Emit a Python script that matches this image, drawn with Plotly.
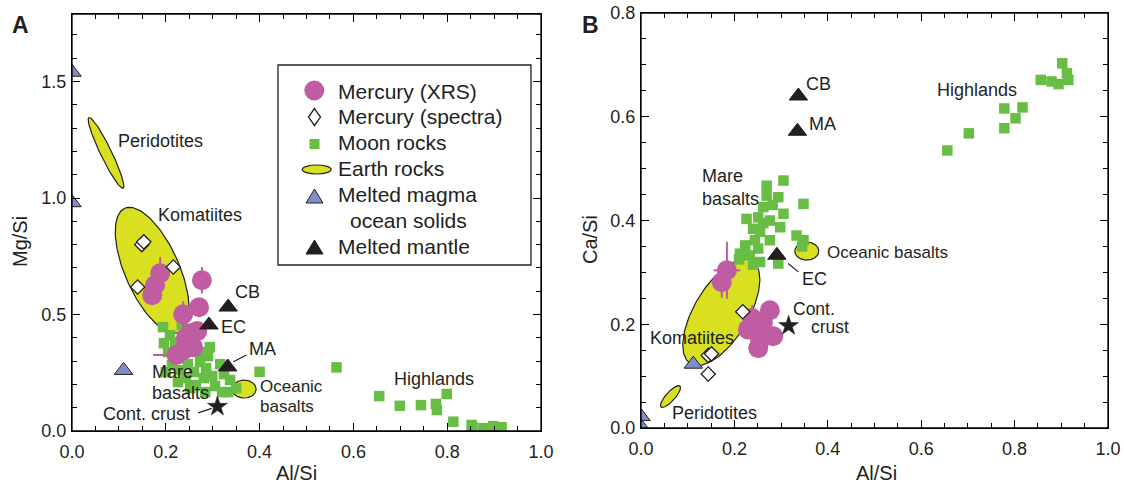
import numpy as np
import plotly.graph_objects as go

# ---------------- data ----------------
# Panel A : Mg/Si vs Al/Si
xrsA_x = [0.188, 0.177, 0.171, 0.277, 0.271, 0.237, 0.252, 0.243, 0.267, 0.258, 0.223, 0.237]
xrsA_y = [0.677, 0.626, 0.583, 0.647, 0.531, 0.501, 0.420, 0.399, 0.429, 0.360, 0.326, 0.347]
xrsA_ey = [0.07, 0.0, 0.0, 0.057, 0.0, 0.056, 0.0, 0.0, 0.0, 0.03, 0.02, 0.0]
xrsA_ex = [0.0, 0.0, 0.0, 0.0, 0.0, 0.0, 0.0, 0.0, 0.0, 0.0, 0.05, 0.0]

specA_x = [0.149, 0.153, 0.216, 0.140]
specA_y = [0.800, 0.812, 0.704, 0.618]

moonA_x = [0.194, 0.209, 0.196, 0.220, 0.205, 0.226, 0.213, 0.200, 0.230, 0.247,
           0.243, 0.260, 0.264, 0.281, 0.273, 0.290, 0.286, 0.299, 0.305, 0.316,
           0.324, 0.337, 0.350, 0.333, 0.320, 0.284, 0.252, 0.226, 0.294, 0.273,
           0.234, 0.400, 0.564,
           0.655, 0.699, 0.744, 0.776, 0.778, 0.799, 0.813, 0.852, 0.854, 0.877, 0.898, 0.916]
moonA_y = [0.446, 0.411, 0.377, 0.381, 0.339, 0.313, 0.283, 0.253, 0.261, 0.287,
           0.227, 0.253, 0.197, 0.227, 0.296, 0.321, 0.270, 0.236, 0.193, 0.287,
           0.244, 0.219, 0.184, 0.167, 0.167, 0.167, 0.184, 0.210, 0.360, 0.339,
           0.454, 0.254, 0.273,
           0.150, 0.108, 0.111, 0.116, 0.090, 0.159, 0.040, 0.026, 0.016, 0.012, 0.021, 0.016]

magA_x = [0.0, 0.0, 0.11]
magA_y = [1.54, 0.98, 0.26]

mantleA_x = [0.333, 0.292, 0.332]          # CB, EC, MA
mantleA_y = [0.532, 0.455, 0.275]

crustA_x = [0.310]
crustA_y = [0.105]

# Earth-rock fields: centre, end of major axis, minor/major ratio
earthA_names = ["Peridotites", "Komatiites", "Oceanic basalts"]
earthA_cx = [0.0725, 0.171, 0.367]
earthA_cy = [1.194, 0.690, 0.180]
earthA_ex = [0.036, 0.1126, 0.3926]
earthA_ey = [1.346, 0.956, 0.180]
earthA_ratio = [0.14, 0.40, 0.75]

# Panel B : Ca/Si vs Al/Si
xrsB_x = [0.184, 0.173, 0.238, 0.276, 0.261, 0.283, 0.255, 0.251, 0.229]
xrsB_y = [0.304, 0.281, 0.212, 0.227, 0.204, 0.177, 0.169, 0.154, 0.190]
xrsB_ey = [0.055, 0.03, 0.025, 0.0, 0.0, 0.0, 0.0, 0.0, 0.0]
xrsB_ex = [0.0285, 0.0, 0.0, 0.0, 0.0, 0.0, 0.0, 0.0, 0.0]

specB_x = [0.218, 0.144, 0.151, 0.144]
specB_y = [0.224, 0.140, 0.143, 0.104]

moonB_x = [0.269, 0.305, 0.269, 0.294, 0.348, 0.262, 0.305, 0.226, 0.251, 0.276,
           0.298, 0.240, 0.255, 0.244, 0.333, 0.348, 0.223, 0.251, 0.212, 0.233,
           0.294, 0.276, 0.262, 0.282, 0.210, 0.240, 0.255, 0.345,
           0.656, 0.702, 0.778, 0.778, 0.802, 0.817, 0.856, 0.879, 0.894, 0.902, 0.912, 0.915]
moonB_y = [0.467, 0.477, 0.448, 0.445, 0.432, 0.426, 0.413, 0.403, 0.406, 0.400,
           0.387, 0.384, 0.378, 0.362, 0.371, 0.362, 0.352, 0.346, 0.336, 0.333,
           0.317, 0.362, 0.395, 0.430, 0.325, 0.315, 0.320, 0.350,
           0.535, 0.568, 0.578, 0.616, 0.597, 0.618, 0.671, 0.668, 0.663, 0.703, 0.684, 0.671]

magB_x = [0.0, 0.0, 0.112]
magB_y = [0.022, 0.002, 0.123]

mantleB_x = [0.337, 0.335, 0.291]          # CB, MA, EC
mantleB_y = [0.640, 0.572, 0.333]

crustB_x = [0.316]
crustB_y = [0.197]

earthB_names = ["Komatiites", "Peridotites", "Oceanic basalts"]
earthB_cx = [0.172, 0.0632, 0.355]
earthB_cy = [0.223, 0.0606, 0.341]
earthB_ex = [0.238, 0.0835, 0.3807]
earthB_ey = [0.322, 0.0808, 0.341]
earthB_ratio = [0.45, 0.32, 0.75]

legend_labels = ["Mercury (XRS)", "Mercury (spectra)", "Moon rocks", "Earth rocks",
                 "Melted magma", "ocean solids", "Melted mantle"]

# ---------------- style / layout ----------------
W, H = 1124, 490
FONT = "Liberation Sans, Arial, Helvetica, sans-serif"
TXT = "#231f20"
PINK = "#c05ca2"
GREEN = "#68bd45"
YELLOW = "#d9e021"
BLUE = "#7d8fc6"
BLACK = "#231f20"

xA_dom = [72 / W, 541 / W]
yA_dom = [1 - 431 / H, 1 - 14 / H]
xB_dom = [641 / W, 1108 / W]
yB_dom = [1 - 428 / H, 1 - 13 / H]
xA_rng, yA_rng = [0, 1.0], [0, 1.79]
xB_rng, yB_rng = [0, 1.0], [0, 0.8]

def scale(dom, rng, total):
    return (dom[1] - dom[0]) * total / (rng[1] - rng[0])

sxA, syA = scale(xA_dom, xA_rng, W), scale(yA_dom, yA_rng, H)
sxB, syB = scale(xB_dom, xB_rng, W), scale(yB_dom, yB_rng, H)


def ellipse(cx, cy, ex, ey, ratio, sx, sy, n=160):
    ux, uy = (ex - cx) * sx, (ey - cy) * sy
    vx, vy = -uy * ratio, ux * ratio
    t = np.linspace(0, 2 * np.pi, n)
    X = cx + (ux * np.cos(t) + vx * np.sin(t)) / sx
    Y = cy + (uy * np.cos(t) + vy * np.sin(t)) / sy
    return X, Y


fig = go.Figure()


def add_panel(xa, ya, sx, sy, ecx, ecy, eex, eey, erat,
              mx, my, px, py, pex, pey, sxx, syy, bx, by, kx, ky, cx_, cy_):
    for i in range(len(ecx)):
        X, Y = ellipse(ecx[i], ecy[i], eex[i], eey[i], erat[i], sx, sy)
        fig.add_trace(go.Scatter(x=X, y=Y, mode="lines", fill="toself",
                                 fillcolor=YELLOW, line=dict(color=BLACK, width=1.2),
                                 xaxis=xa, yaxis=ya, hoverinfo="skip", showlegend=False))
    fig.add_trace(go.Scatter(x=mx, y=my, mode="markers", xaxis=xa, yaxis=ya,
                             marker=dict(symbol="square", size=10.5, color=GREEN,
                                         line=dict(width=0)), showlegend=False))
    fig.add_trace(go.Scatter(x=px, y=py, mode="markers", xaxis=xa, yaxis=ya,
                             marker=dict(symbol="circle", size=20, color=PINK,
                                         line=dict(width=0)),
                             error_y=dict(type="data", array=pey, color=PINK,
                                          thickness=2, width=0),
                             error_x=dict(type="data", array=pex, color=PINK,
                                          thickness=2, width=0),
                             showlegend=False))
    fig.add_trace(go.Scatter(x=sxx, y=syy, mode="markers", xaxis=xa, yaxis=ya,
                             marker=dict(symbol="diamond", size=11, color="white",
                                         line=dict(width=1.3, color=BLACK)),
                             showlegend=False))
    fig.add_trace(go.Scatter(x=bx, y=by, mode="markers", xaxis=xa, yaxis=ya,
                             marker=dict(symbol="triangle-up", size=16, color=BLUE,
                                         line=dict(width=1, color=BLACK)),
                             showlegend=False))
    fig.add_trace(go.Scatter(x=kx, y=ky, mode="markers", xaxis=xa, yaxis=ya,
                             marker=dict(symbol="triangle-up", size=16, color=BLACK,
                                         line=dict(width=1, color=BLACK)),
                             showlegend=False))
    fig.add_trace(go.Scatter(x=cx_, y=cy_, mode="markers", xaxis=xa, yaxis=ya,
                             marker=dict(symbol="star", size=15, color=BLACK,
                                         line=dict(width=0.5, color=BLACK)),
                             showlegend=False))


add_panel("x", "y", sxA, syA, earthA_cx, earthA_cy, earthA_ex, earthA_ey, earthA_ratio,
          moonA_x, moonA_y, xrsA_x, xrsA_y, xrsA_ex, xrsA_ey, specA_x, specA_y,
          magA_x, magA_y, mantleA_x, mantleA_y, crustA_x, crustA_y)
add_panel("x2", "y2", sxB, syB, earthB_cx, earthB_cy, earthB_ex, earthB_ey, earthB_ratio,
          moonB_x, moonB_y, xrsB_x, xrsB_y, xrsB_ex, xrsB_ey, specB_x, specB_y,
          magB_x, magB_y, mantleB_x, mantleB_y, crustB_x, crustB_y)

# ---------------- axes ----------------
def axis(dom, rng, dtick, minor, anchor, standoff):
    return dict(domain=dom, range=rng, dtick=dtick, tick0=0, tickformat=".1f",
                showline=True, linecolor="black", linewidth=1.3, mirror="allticks",
                ticks="inside", ticklen=8, tickwidth=1.2, tickcolor="black",
                minor=dict(dtick=minor, tick0=0, ticks="inside", ticklen=5,
                           tickwidth=1.2, tickcolor="black"),
                showgrid=False, zeroline=False, anchor=anchor, automargin=False,
                ticklabelstandoff=standoff,
                tickfont=dict(family=FONT, size=18, color=TXT))

fig.update_layout(
    xaxis=axis(xA_dom, xA_rng, 0.2, 0.05, "y", 4),
    yaxis=axis(yA_dom, yA_rng, 0.5, 0.1, "x", 1),
    xaxis2=axis(xB_dom, xB_rng, 0.2, 0.05, "y2", 4),
    yaxis2=axis(yB_dom, yB_rng, 0.2, 0.05, "x2", 1),
)

# ---------------- text labels ----------------
ann = []

def dlabel(text, x, y, xa, ya, size=18, xanchor="left"):
    ann.append(dict(text=text, x=x, y=y, xref=xa, yref=ya, showarrow=False,
                    xanchor=xanchor, yanchor="middle",
                    font=dict(family=FONT, size=size, color=TXT)))

# panel A
labA_text = ["Peridotites", "Komatiites", "CB", "EC", "MA", "Mare", "basalts",
             "Oceanic", "basalts", "Highlands"]
labA_x = [0.094, 0.179, 0.343, 0.313, 0.373, 0.166, 0.166, 0.397, 0.397, 0.682]
labA_y = [1.243, 0.926, 0.597, 0.447, 0.350, 0.254, 0.162, 0.190, 0.104, 0.222]
labA_size = [18, 18, 18, 18, 18, 18, 18, 17, 17, 18]
for t, x, y, s in zip(labA_text, labA_x, labA_y, labA_size):
    dlabel(t, x, y, "x", "y", s)
dlabel("Cont. crust", 0.256, 0.073, "x", "y", 18, "right")

# panel B
labB_text = ["CB", "MA", "Mare", "basalts", "Oceanic basalts", "EC", "Cont.", "crust",
             "Komatiites", "Peridotites", "Highlands"]
labB_x = [0.348, 0.355, 0.126, 0.126, 0.394, 0.340, 0.321, 0.360, 0.0143, 0.062, 0.630]
labB_y = [0.664, 0.586, 0.485, 0.442, 0.339, 0.288, 0.2285, 0.1945, 0.174, 0.028, 0.651]
labB_size = [18, 18, 18, 18, 17, 18, 17.5, 17.5, 18, 18, 18]
for t, x, y, s in zip(labB_text, labB_x, labB_y, labB_size):
    dlabel(t, x, y, "x2", "y2", s)

# connector lines
shapes = []
connA = [((0.372, 0.326), (0.344, 0.297)), ((0.269, 0.078), (0.298, 0.097))]
for (a, b) in connA:
    shapes.append(dict(type="line", xref="x", yref="y", x0=a[0], y0=a[1], x1=b[0], y1=b[1],
                       line=dict(color=BLACK, width=1.2)))
connB = [((0.315, 0.317), (0.337, 0.301))]
for (a, b) in connB:
    shapes.append(dict(type="line", xref="x2", yref="y2", x0=a[0], y0=a[1], x1=b[0], y1=b[1],
                       line=dict(color=BLACK, width=1.2)))

# plot frames
for xr, yr in (("x domain", "y domain"), ("x2 domain", "y2 domain")):
    shapes.append(dict(type="rect", xref=xr, yref=yr, x0=0, y0=0, x1=1, y1=1,
                       line=dict(color="black", width=1.3), layer="above"))

# axis titles & panel letters (paper coords from pixels)
def plabel(text, px, py, size, bold=False, angle=0):
    ann.append(dict(text=("<b>%s</b>" % text) if bold else text,
                    x=px / W, y=1 - py / H, xref="paper", yref="paper",
                    showarrow=False, xanchor="center", yanchor="middle", textangle=angle,
                    font=dict(family=FONT, size=size, color=TXT)))

plabel("Al/Si", 296, 473, 20)
plabel("Al/Si", 876, 473, 20)
plabel("Mg/Si", 20, 242, 20, angle=-90)
plabel("Ca/Si", 590, 240, 20, angle=-90)
plabel("A", 20, 25, 23, bold=True)
plabel("B", 591, 25, 23, bold=True)

# ---------------- legend (drawn manually) ----------------
def P(px, py):
    return px / W, 1 - py / H

bx0, by0 = P(278, 265)
bx1, by1 = P(531, 65)
shapes.append(dict(type="rect", xref="paper", yref="paper", x0=bx0, y0=by0, x1=bx1, y1=by1,
                   line=dict(color=BLACK, width=1.3), fillcolor="white", layer="above"))

cx0, cy0 = P(304.3, 80.5); cx1, cy1 = P(324.3, 100.5)
shapes.append(dict(type="circle", xref="paper", yref="paper", x0=cx0, y0=cy0, x1=cx1, y1=cy1,
                   fillcolor=PINK, line=dict(width=0), layer="above"))

def path(pts):
    return "M " + " L ".join("%f,%f" % P(a, b) for a, b in pts) + " Z"

shapes.append(dict(type="path", xref="paper", yref="paper", layer="above",
                   path=path([(314.5, 108.5), (320.5, 117), (314.5, 125.5), (308.5, 117)]),
                   fillcolor="white", line=dict(color=BLACK, width=1.3)))
sq0 = P(309.5, 149); sq1 = P(319.5, 139)
shapes.append(dict(type="rect", xref="paper", yref="paper", layer="above",
                   x0=sq0[0], y0=sq0[1], x1=sq1[0], y1=sq1[1], fillcolor=GREEN, line=dict(width=0)))
el0 = P(302.2, 174); el1 = P(331.2, 165)
shapes.append(dict(type="circle", xref="paper", yref="paper", layer="above",
                   x0=el0[0], y0=el0[1], x1=el1[0], y1=el1[1], fillcolor=YELLOW,
                   line=dict(color=BLACK, width=1.2)))
shapes.append(dict(type="path", xref="paper", yref="paper", layer="above",
                   path=path([(306, 203), (323, 203), (314.5, 189)]),
                   fillcolor=BLUE, line=dict(color=BLACK, width=1)))
shapes.append(dict(type="path", xref="paper", yref="paper", layer="above",
                   path=path([(306, 254), (323, 254), (314.5, 240)]),
                   fillcolor=BLACK, line=dict(color=BLACK, width=1)))

leg_x = [336, 336, 336, 336, 336, 347.7, 336]
leg_y = [91, 117, 143, 168.5, 194.5, 220.5, 246]
for t, lx, ly in zip(legend_labels, leg_x, leg_y):
    ann.append(dict(text=t, x=lx / W, y=1 - ly / H, xref="paper", yref="paper",
                    showarrow=False, xanchor="left", yanchor="middle",
                    font=dict(family=FONT, size=21, color=TXT)))

fig.update_layout(
    width=W, height=H, margin=dict(l=0, r=0, t=0, b=0, autoexpand=False),
    paper_bgcolor="white", plot_bgcolor="white",
    showlegend=False, annotations=ann, shapes=shapes,
    font=dict(family=FONT, color=TXT),
)

fig.write_html("out.html", config={"displayModeBar": False},
               post_script="document.body.style.margin='0px'; document.body.style.padding='0px';")
